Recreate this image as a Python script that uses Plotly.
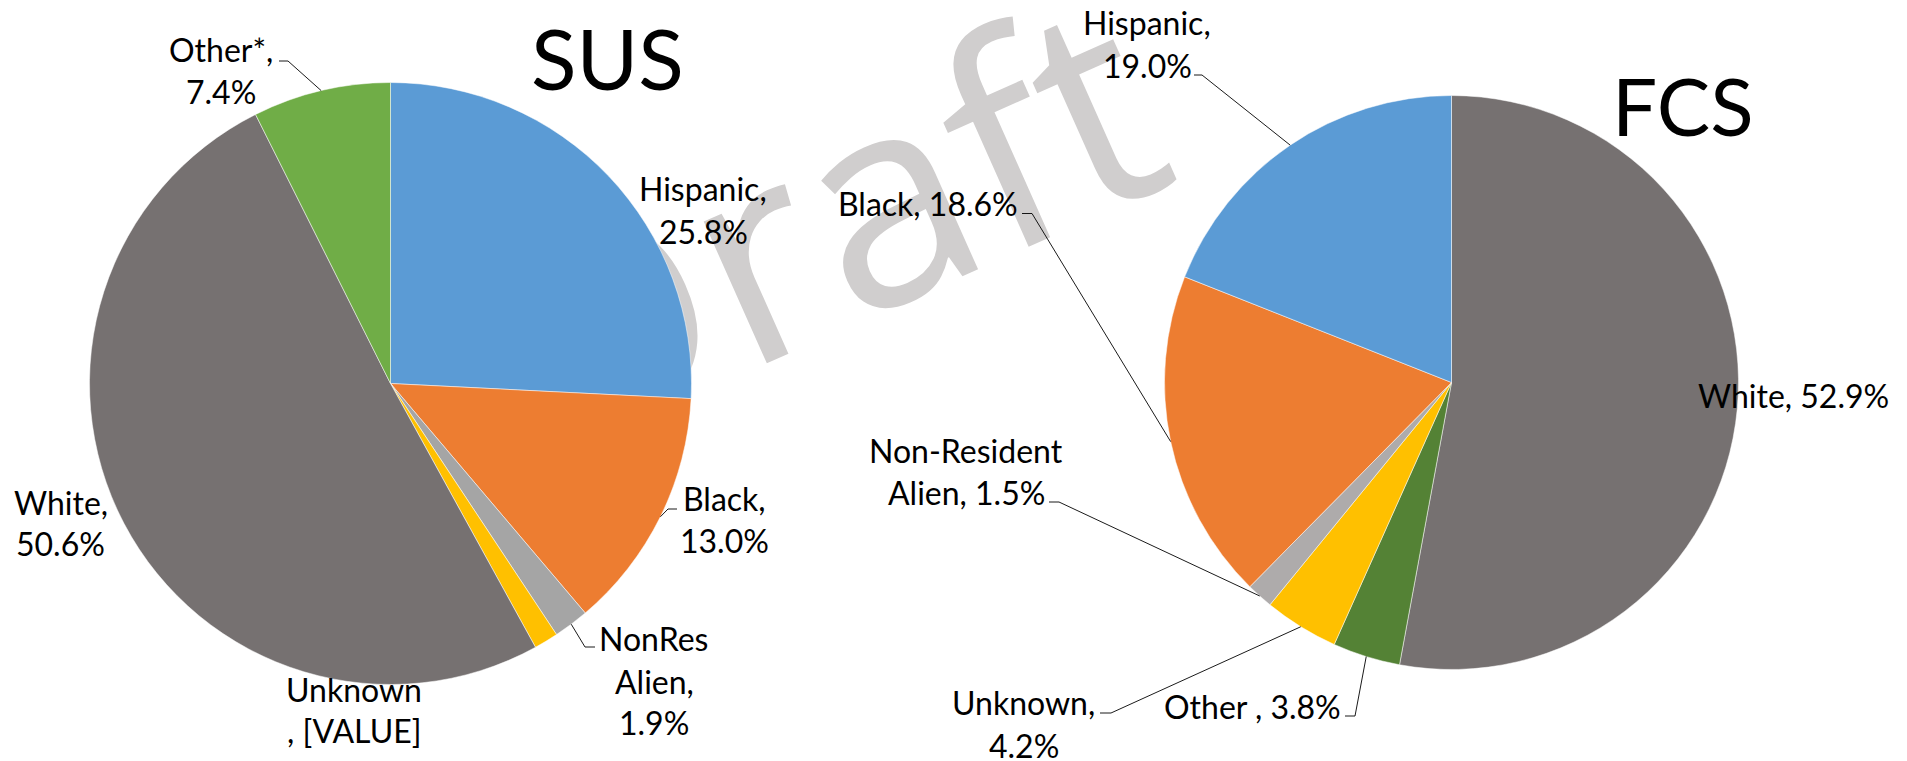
import math
import plotly.graph_objects as go

W, H = 1907, 761

# ---------------- data ----------------
sus_labels = ["Hispanic", "Black", "NonRes Alien", "Unknown", "White", "Other*"]
sus_values = [25.8, 13.0, 1.9, 1.3, 50.6, 7.4]
sus_colors = ["#5B9BD5", "#ED7D31", "#A5A5A5", "#FFC000", "#767171", "#70AD47"]

fcs_labels = ["White", "Other", "Unknown", "Non-Resident Alien", "Black", "Hispanic"]
fcs_values = [52.9, 3.8, 4.2, 1.5, 18.6, 19.0]
fcs_colors = ["#767171", "#548235", "#FFC000", "#AEABAB", "#ED7D31", "#5B9BD5"]

titles = ["SUS", "FCS"]
watermark = "Draft"

# data-label lines (text) per slice
sus_label_text = [
    ["Hispanic,", f"{sus_values[0]:.1f}%"],
    ["Black,", f"{sus_values[1]:.1f}%"],
    ["NonRes", "Alien,", f"{sus_values[2]:.1f}%"],
    ["Unknown", ", [VALUE]"],
    ["White,", f"{sus_values[4]:.1f}%"],
    ["Other*,", f"{sus_values[5]:.1f}%"],
]
fcs_label_text = [
    [f"White, {fcs_values[0]:.1f}%"],
    [f"Other , {fcs_values[1]:.1f}%"],
    ["Unknown,", f"{fcs_values[2]:.1f}%"],
    ["Non-Resident", f"Alien, {fcs_values[3]:.1f}%"],
    [f"Black, {fcs_values[4]:.1f}%"],
    ["Hispanic,", f"{fcs_values[5]:.1f}%"],
]

# ---------------- layout (pixel positions) ----------------
sus_center, sus_r = (390.5, 383.5), 301
fcs_center, fcs_r = (1451.5, 382.5), 287

# label line positions: (center x, middle y) per line
sus_label_pos = [
    [(703, 188.5), (703, 231)],
    [(724, 498), (724, 540.5)],
    [(653, 638), (654, 681), (653.5, 722)],
    [(354, 689), (354, 730.5)],
    [(60.5, 502.5), (60.5, 543.5)],
    [(220.5, 50), (220.5, 91.5)],
]
fcs_label_pos = [
    [(1793, 395.5)],
    [(1252.5, 706)],
    [(1023.5, 702.5), (1023.5, 745)],
    [(966, 451), (966, 492.5)],
    [(928, 203)],
    [(1147, 23), (1147, 65.5)],
]
# leader-line stubs next to the labels (None = no leader)
sus_stubs = [None, ((677, 509), (668, 509)), ((595, 647), (585, 647)), None, None,
             ((279, 61), (288, 61))]
fcs_stubs = [None, ((1345, 716), (1355, 716)), ((1100, 713), (1111, 713)),
             ((1049, 502), (1059, 502)), ((1022, 213.5), (1032, 213.5)),
             ((1194, 75), (1202, 75))]

FONT = "Lato"
LABEL_SIZE = 32


def px2paper(x, y):
    return x / W, 1 - y / H


def domain(center, r):
    cx, cy = center
    return dict(x=[(cx - r) / W, (cx + r) / W], y=[1 - (cy + r) / H, 1 - (cy - r) / H])


def anchors(values, center, r):
    tot = sum(values)
    cum = 0
    pts = []
    for v in values:
        mid = (cum + v / 2) / tot * 2 * math.pi
        cum += v
        pts.append((center[0] + r * math.sin(mid), center[1] - r * math.cos(mid)))
    return pts


fig = go.Figure()
for labels, values, colors, center, r in [
    (sus_labels, sus_values, sus_colors, sus_center, sus_r),
    (fcs_labels, fcs_values, fcs_colors, fcs_center, fcs_r),
]:
    fig.add_trace(go.Pie(
        labels=labels, values=values, sort=False, direction="clockwise", rotation=0,
        marker=dict(colors=colors, line=dict(color="white", width=0.5)),
        textinfo="none", hoverinfo="label+percent", domain=domain(center, r),
        showlegend=False,
    ))

annotations = []
shapes = []

# watermark behind the pies
wx, wy = 830, 234
x0, y0 = px2paper(wx - 5, wy - 5)
x1, y1 = px2paper(wx + 5, wy + 5)
shapes.append(dict(
    type="rect", xref="paper", yref="paper", x0=x0, x1=x1, y0=y1, y1=y0,
    line=dict(width=0), fillcolor="rgba(0,0,0,0)", layer="below",
    label=dict(text=watermark, textangle=-24, textposition="middle center",
               font=dict(family="Open Sans", size=290, color="#D0CECE")),
))

for texts, poss, stubs, values, center, r in [
    (sus_label_text, sus_label_pos, sus_stubs, sus_values, sus_center, sus_r),
    (fcs_label_text, fcs_label_pos, fcs_stubs, fcs_values, fcs_center, fcs_r),
]:
    pts = anchors(values, center, r)
    for lines, pl, stub, pt in zip(texts, poss, stubs, pts):
        for t, (x, y) in zip(lines, pl):
            ax, ay = px2paper(x, y)
            annotations.append(dict(
                text=t, x=ax, y=ay, xref="paper", yref="paper",
                xanchor="center", yanchor="middle", showarrow=False,
                font=dict(family=FONT, size=LABEL_SIZE, color="black"),
            ))
        if stub is not None:
            (sx0, sy0), (sx1, sy1) = stub
            a = px2paper(sx0, sy0)
            b = px2paper(sx1, sy1)
            c = px2paper(*pt)
            shapes.append(dict(
                type="path", xref="paper", yref="paper",
                path=f"M {a[0]},{a[1]} L {b[0]},{b[1]} L {c[0]},{c[1]}",
                line=dict(color="black", width=0.9), layer="above",
            ))

for t, (x, y), size in zip(titles, [(607, 57), (1683, 105)], [84, 80]):
    ax, ay = px2paper(x, y)
    annotations.append(dict(
        text=t, x=ax, y=ay, xref="paper", yref="paper", xanchor="center",
        yanchor="middle", showarrow=False,
        font=dict(family=FONT, size=size, color="black"),
    ))

fig.update_layout(
    width=W, height=H, margin=dict(l=0, r=0, t=0, b=0),
    paper_bgcolor="white", plot_bgcolor="white",
    font=dict(family=FONT, color="black"),
    annotations=annotations, shapes=shapes, showlegend=False,
)

fig.write_html(
    "out.html",
    config={"displayModeBar": False},
    post_script="document.body.style.margin='0';document.body.style.overflow='hidden';",
)
